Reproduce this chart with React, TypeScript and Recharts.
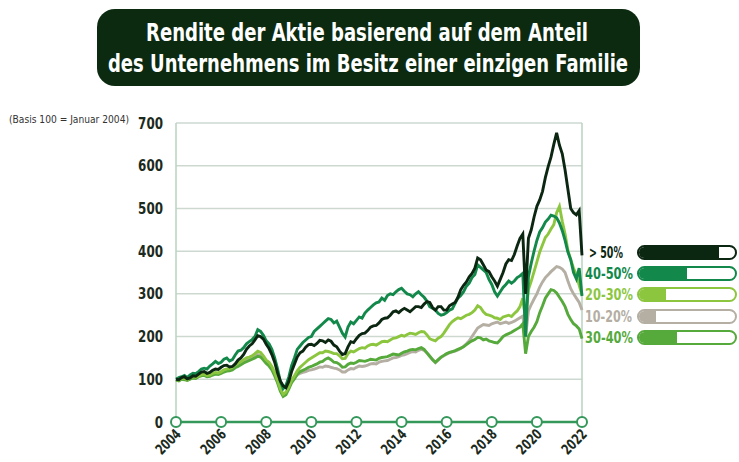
import React from 'react';
import { LineChart, Line, XAxis, YAxis, CartesianGrid, ReferenceLine, ReferenceDot } from 'recharts';

const titleLines = [
  'Rendite der Aktie basierend auf dem Anteil',
  'des Unternehmens im Besitz einer einzigen Familie',
];
const yNote = '(Basis 100 = Januar 2004)';

// one point every eighth of a year, 2004.0 … 2022.0 (axis position)
const dates = Array.from({ length: 145 }, (_, i) => 2004 + i / 8);

const above50 = [
  100, 99, 104, 106, 101, 103, 108, 107,
  112, 117, 118, 114, 116, 121, 124, 123,
  128, 132, 133, 129, 130, 136, 145, 150,
  158, 170, 178, 183, 192, 202, 200, 194,
  182, 172, 158, 140, 115, 96, 85, 80,
  95, 118, 135, 152, 162, 166, 175, 181,
  182, 179, 184, 191, 190, 186, 192, 189,
  180, 176, 166, 158, 160, 176, 188, 186,
  195, 203, 207, 208, 214, 222, 225, 226,
  232, 240, 243, 244, 250, 258, 260, 256,
  262, 266, 262, 258, 264, 270, 270, 268,
  276, 282, 280, 268, 262, 270, 270, 262,
  262, 272, 276, 280, 292, 310, 320, 328,
  340, 348, 360, 384, 380, 368, 356, 352,
  340, 330, 318, 334, 350, 370, 380, 378,
  392, 412, 430, 440, 300, 430, 450, 480,
  505, 520, 540, 572, 598, 620, 650, 677,
  648, 628, 590, 545, 500, 490, 485, 495,
  390,
];
const from40to50 = [
  100, 104, 106, 109, 104, 110, 114, 113,
  118, 124, 126, 124, 131, 136, 142, 137,
  140, 147, 150, 143, 146, 157, 166, 168,
  174, 183, 188, 193, 200, 216, 212, 203,
  190, 183, 170, 150, 125, 95, 78, 86,
  105, 132, 150, 170, 178, 186, 192, 198,
  200, 212, 218, 224, 230, 236, 242, 240,
  232, 236, 222, 208, 199, 222, 234, 230,
  238, 246, 243, 255, 262, 268, 274, 279,
  281, 290, 285, 296, 300, 298, 305, 310,
  313, 306, 300, 298, 293, 300, 305, 298,
  292, 283, 270, 266, 262, 254, 250, 252,
  256, 262, 265, 278, 290, 296, 305, 318,
  325, 338, 345, 368, 362, 356, 350, 334,
  322, 305, 295, 305, 315, 322, 330, 325,
  330, 338, 342, 348, 200, 340, 372, 400,
  425, 445, 455, 468, 475, 484, 482, 478,
  466, 448, 425, 398, 380, 350, 335, 360,
  295,
];
const from20to30 = [
  100, 98, 102, 103, 99, 103, 106, 105,
  108, 111, 112, 109, 110, 114, 116, 115,
  118, 122, 124, 125, 128, 134, 138, 141,
  146, 150, 152, 155, 160, 166, 163, 155,
  145, 140, 130, 116, 98, 78, 65, 70,
  82, 98, 108, 120, 128, 134, 140, 146,
  150, 154, 158, 162, 162, 166, 165, 163,
  160, 160, 155, 148, 149, 160, 166, 164,
  168, 172, 174, 173, 178, 181, 182, 180,
  184, 188, 189, 188, 192, 196, 197, 200,
  203, 201, 205, 208, 207, 205, 209, 212,
  211, 204, 195, 192, 190, 196, 200, 208,
  218, 228, 235, 240, 244, 242, 246, 250,
  252, 256, 262, 272, 268, 258, 252, 250,
  248, 244, 243, 240, 246, 248, 250, 247,
  254, 260, 270, 290, 240, 310, 330, 352,
  375, 398, 415, 432, 440, 452, 462, 490,
  505, 470, 440, 402, 380, 360, 345, 320,
  298,
];
const from10to20 = [
  99, 97, 101, 101, 98, 101, 104, 103,
  107, 109, 110, 107, 108, 111, 113, 113,
  116, 119, 121, 122, 124, 130, 134, 137,
  141, 144, 147, 150, 154, 158, 156, 149,
  140, 135, 126, 112, 95, 76, 63, 68,
  80, 94, 104, 110, 114, 116, 118, 121,
  122, 124, 126, 129, 128, 131, 130, 128,
  126, 125, 122, 117, 117, 122, 125, 124,
  128, 131, 130, 131, 133, 136, 137, 136,
  140, 142, 143, 144, 147, 150, 151, 153,
  156, 157, 160, 163, 165, 164, 168, 170,
  168, 162, 154, 146, 139, 145, 151, 155,
  159, 162, 164, 166, 169, 172, 177, 183,
  190, 200, 210, 220, 224, 228, 227, 226,
  230, 232, 234, 230, 232, 234, 231, 233,
  236, 240, 244, 248, 199, 260, 275, 288,
  300, 316, 328, 338, 345, 352, 358, 364,
  362, 358, 350, 330, 312, 300, 290, 280,
  262,
];
const from30to40 = [
  98, 96, 100, 99, 97, 100, 103, 102,
  106, 108, 109, 106, 107, 110, 112, 111,
  114, 117, 119, 120, 122, 127, 130, 134,
  138, 141, 144, 147, 150, 154, 152, 145,
  137, 131, 122, 108, 92, 72, 60, 64,
  77, 92, 101, 112, 118, 121, 124, 128,
  130, 133, 136, 140, 142, 147, 150, 146,
  140, 139, 135, 128, 129, 135, 138, 137,
  140, 144, 143, 142, 144, 147, 146, 145,
  149, 151, 152, 153, 156, 159, 158, 157,
  161, 164, 166, 169, 170, 169, 172, 174,
  170, 162, 154, 146, 140, 146, 152, 156,
  160, 163, 165, 167, 170, 173, 176, 181,
  186, 190, 193, 198, 197, 192, 194, 190,
  188, 186, 185, 192, 200, 204, 207, 210,
  214, 218, 222, 230, 160, 200, 212, 222,
  235, 256, 272, 290, 300, 310, 308, 302,
  292, 282, 270, 252, 240, 230, 225, 218,
  195,
];

const xTicks = [2004, 2006, 2008, 2010, 2012, 2014, 2016, 2018, 2020, 2022];
const yTicks = [0, 100, 200, 300, 400, 500, 600, 700];

const legendLabels = ['> 50%', '40-50%', '20-30%', '10-20%', '30-40%'];
const legendShares = [0.83, 0.5, 0.28, 0.18, 0.4];

const COLORS = {
  above50: '#0b2611',
  from40to50: '#12884a',
  from20to30: '#8cc63f',
  from10to20: '#b4aea3',
  from30to40: '#56a93b',
};
const legendColors = [COLORS.above50, COLORS.from40to50, COLORS.from20to30, COLORS.from10to20, COLORS.from30to40];

const data = dates.map((t, i) => ({
  t,
  above50: above50[i],
  from40to50: from40to50[i],
  from20to30: from20to30[i],
  from10to20: from10to20[i],
  from30to40: from30to40[i],
}));

const COND = '"DejaVu Sans Condensed", "DejaVu Sans", sans-serif';
const DARK = '#1b2a1c';
const AXIS_GREEN = '#34985a';
const GRID = '#cdd9d0';
const SW = 2.9;

const XTick = (props: any) => {
  const { x, y, payload } = props;
  const tx = x + 6;
  const ty = y + 13;
  return (
    <text
      x={tx}
      y={ty}
      transform={`rotate(-45, ${tx}, ${ty})`}
      textAnchor="end"
      fontFamily={COND}
      fontWeight="bold"
      fontSize={14.5}
      fill={DARK}
      textLength={29}
      lengthAdjust="spacingAndGlyphs"
    >
      {payload.value}
    </text>
  );
};

const YTick = (props: any) => {
  const { x, y, payload } = props;
  const s = String(payload.value);
  return (
    <text
      x={x}
      y={y}
      dy="0.36em"
      textAnchor="end"
      fontFamily={COND}
      fontWeight="bold"
      fontSize={15.5}
      fill={DARK}
      textLength={s.length * 8.3}
      lengthAdjust="spacingAndGlyphs"
    >
      {s}
    </text>
  );
};

const legendWidths = [34, 48, 48, 47, 48];

export default function App() {
  return (
    <div style={{ position: 'absolute', left: 0, top: 0, width: 739, height: 462, background: '#fff', overflow: 'hidden' }}>
      <LineChart
        width={739}
        height={462}
        data={data}
        margin={{ top: 123, right: 157, bottom: 0, left: 116 }}
      >
        <CartesianGrid vertical={false} stroke={GRID} strokeWidth={1.5} />
        <ReferenceLine x={2004} stroke="#b9d3c1" strokeWidth={1.5} />
        <ReferenceLine x={2022} stroke="#b9d3c1" strokeWidth={1.5} />
        <XAxis
          type="number"
          dataKey="t"
          domain={[2004, 2022]}
          ticks={xTicks}
          interval={0}
          height={40}
          tickSize={0}
          tickMargin={0}
          tickLine={false}
          axisLine={{ stroke: AXIS_GREEN, strokeWidth: 2.5 }}
          tick={<XTick />}
        />
        <YAxis
          domain={[0, 700]}
          ticks={yTicks}
          interval={0}
          width={60}
          tickSize={0}
          tickMargin={13}
          tickLine={false}
          axisLine={false}
          tick={<YTick />}
        />
        <Line type="linear" dataKey="from10to20" stroke={COLORS.from10to20} strokeWidth={SW} dot={false} isAnimationActive={false} />
        <Line type="linear" dataKey="from30to40" stroke={COLORS.from30to40} strokeWidth={SW} dot={false} isAnimationActive={false} />
        <Line type="linear" dataKey="from20to30" stroke={COLORS.from20to30} strokeWidth={SW} dot={false} isAnimationActive={false} />
        <Line type="linear" dataKey="from40to50" stroke={COLORS.from40to50} strokeWidth={SW} dot={false} isAnimationActive={false} />
        <Line type="linear" dataKey="above50" stroke={COLORS.above50} strokeWidth={SW} dot={false} isAnimationActive={false} />
        {xTicks.map((v) => (
          <ReferenceDot key={v} x={v} y={0} r={5} fill="#fff" stroke={AXIS_GREEN} strokeWidth={2} ifOverflow="visible" />
        ))}
      </LineChart>

      <svg width={739} height={462} style={{ position: 'absolute', left: 0, top: 0, pointerEvents: 'none' }}>
        <rect x={97} y={9} width={543} height={77} rx={18} ry={18} fill="#0c2a10" />
        <text x={367} y={41} textAnchor="middle" fill="#fff" fontFamily={COND} fontWeight="bold" fontSize={24} textLength={442} lengthAdjust="spacingAndGlyphs">
          {titleLines[0]}
        </text>
        <text x={368} y={72} textAnchor="middle" fill="#fff" fontFamily={COND} fontWeight="bold" fontSize={24} textLength={520} lengthAdjust="spacingAndGlyphs">
          {titleLines[1]}
        </text>
        <text x={9} y={123} fill="#333" fontFamily={COND} fontSize={10.5} textLength={120} lengthAdjust="spacingAndGlyphs">
          {yNote}
        </text>
        {legendLabels.map((label, i) => (
          <text
            key={label}
            x={i === 0 ? 589 : 585}
            y={252.5 + i * 21.2 + 5.5}
            fill={legendColors[i]}
            fontFamily={COND}
            fontWeight="bold"
            fontSize={15.5}
            textLength={legendWidths[i]}
            lengthAdjust="spacingAndGlyphs"
          >
            {label}
          </text>
        ))}
      </svg>

      {legendLabels.map((label, i) => (
        <div
          key={label}
          style={{
            position: 'absolute',
            left: 637,
            top: 245 + i * 21.2,
            width: 100,
            height: 15,
            boxSizing: 'border-box',
            border: `2.5px solid ${legendColors[i]}`,
            borderRadius: 8,
            overflow: 'hidden',
            background: '#fff',
          }}
        >
          <div style={{ width: `${legendShares[i] * 100}%`, height: '100%', background: legendColors[i] }} />
        </div>
      ))}
    </div>
  );
}
